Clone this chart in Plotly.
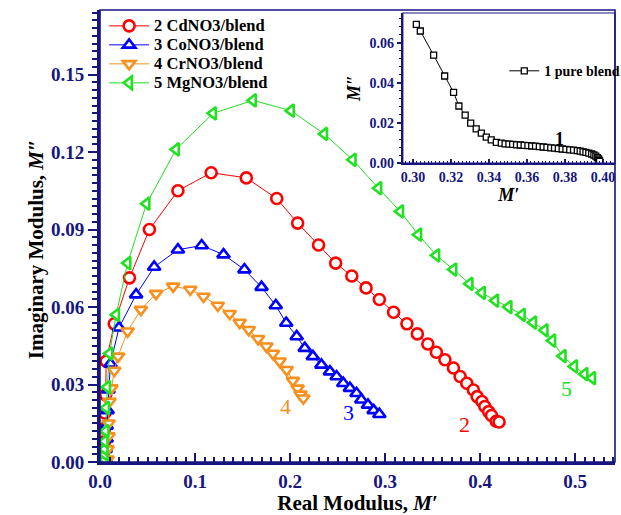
import plotly.graph_objects as go

# ---- electric modulus data (M' vs M'') ----
cd_x = [0.004, 0.004, 0.005, 0.005, 0.005, 0.006, 0.0065, 0.015, 0.031, 0.052, 0.082, 0.117, 0.154,
        0.186, 0.208, 0.230, 0.248, 0.265, 0.280, 0.294, 0.309, 0.323, 0.334, 0.345, 0.354, 0.363,
        0.372, 0.379, 0.386, 0.393, 0.397, 0.402, 0.405, 0.409, 0.412, 0.417, 0.420]
cd_y = [0.001, 0.004, 0.008, 0.013, 0.019, 0.026, 0.039, 0.0535, 0.0713, 0.090, 0.105, 0.112, 0.110,
        0.102, 0.0925, 0.084, 0.077, 0.072, 0.0674, 0.0629, 0.058, 0.0535, 0.0496, 0.0457, 0.0425,
        0.0396, 0.0364, 0.0331, 0.0305, 0.0279, 0.0253, 0.0234, 0.0215, 0.0195, 0.018, 0.0158, 0.0155]

co_x = [0.006, 0.006, 0.007, 0.007, 0.008, 0.009, 0.011, 0.020, 0.038, 0.057, 0.082, 0.107, 0.130,
        0.152, 0.170, 0.185, 0.196, 0.207, 0.2155, 0.224, 0.233, 0.242, 0.249, 0.256, 0.263, 0.270,
        0.275, 0.282, 0.288, 0.294]
co_y = [0.001, 0.005, 0.009, 0.014, 0.020, 0.028, 0.038, 0.052, 0.0648, 0.0755, 0.0822, 0.0838,
        0.0803, 0.0745, 0.0677, 0.0606, 0.0538, 0.0486, 0.0441, 0.0409, 0.0376, 0.035, 0.0331,
        0.0305, 0.0286, 0.0266, 0.0241, 0.0221, 0.020, 0.0185]

cr_x = [0.008, 0.008, 0.009, 0.009, 0.010, 0.012, 0.015, 0.019, 0.029, 0.043, 0.059, 0.077, 0.095,
        0.109, 0.124, 0.1365, 0.147, 0.1566, 0.1663, 0.1751, 0.182, 0.189, 0.1965, 0.203, 0.208,
        0.211, 0.214]
cr_y = [0.001, 0.005, 0.010, 0.015, 0.0234, 0.0286, 0.0354, 0.0409, 0.0506, 0.059, 0.0652, 0.068,
        0.0668, 0.0641, 0.0606, 0.0574, 0.054, 0.0512, 0.0477, 0.0448, 0.042, 0.039, 0.0357,
        0.0315, 0.0285, 0.0262, 0.0247]

mg_x = [0.005, 0.005, 0.005, 0.005, 0.006, 0.0065, 0.0076, 0.010, 0.017, 0.029, 0.049, 0.080, 0.119,
        0.161, 0.201, 0.236, 0.266, 0.293, 0.316, 0.335, 0.354, 0.372, 0.389, 0.402, 0.416, 0.430,
        0.444, 0.456, 0.468, 0.476, 0.487, 0.499, 0.510, 0.518]
mg_y = [0.001, 0.003, 0.005, 0.008, 0.012, 0.021, 0.029, 0.042, 0.057, 0.077, 0.100, 0.121, 0.135,
        0.140, 0.136, 0.127, 0.117, 0.106, 0.097, 0.088, 0.080, 0.0745, 0.069, 0.0655, 0.0625,
        0.060, 0.057, 0.054, 0.051, 0.047, 0.041, 0.037, 0.034, 0.0325]

pure_x = [0.3018, 0.3039, 0.3109, 0.3167, 0.3214, 0.3242, 0.3275, 0.3304, 0.3333, 0.3360, 0.3386,
          0.3412, 0.3439, 0.3465, 0.3485, 0.3505, 0.3525, 0.3545, 0.3565, 0.3585, 0.3605, 0.3625,
          0.3645, 0.3665, 0.3685, 0.3705, 0.3725, 0.3745, 0.3765, 0.3785, 0.3805, 0.3825, 0.3845,
          0.3865, 0.3880, 0.3895, 0.3910, 0.3925, 0.3940, 0.3952, 0.3962, 0.3970, 0.3976, 0.3980,
          0.3982]
pure_y = [0.0693, 0.0660, 0.0539, 0.0435, 0.0353, 0.0285, 0.0239, 0.0199, 0.0171, 0.0149, 0.0129,
          0.0116, 0.0103, 0.0099, 0.0096, 0.0094, 0.0093, 0.0091, 0.0090, 0.0088, 0.0087, 0.0085,
          0.0084, 0.0082, 0.0080, 0.0078, 0.0076, 0.0074, 0.0072, 0.0070, 0.0068, 0.0066, 0.0064,
          0.0062, 0.0059, 0.0056, 0.0053, 0.0049, 0.0045, 0.0040, 0.0034, 0.0027, 0.0020, 0.0013,
          0.0008]

series = [
    ("2 CdNO3/blend", cd_x, cd_y, "circle", "#ff0000"),
    ("3 CoNO3/blend", co_x, co_y, "triangle-up", "#0000ff"),
    ("4 CrNO3/blend", cr_x, cr_y, "triangle-down", "#f7901e"),
    ("5 MgNO3/blend", mg_x, mg_y, "triangle-left", "#22e022"),
]

# curve number labels placed at the end of each curve
curve_labels = [("2", 0.384, 0.0145, "#ff0000"), ("3", 0.261, 0.019, "#0000ff"),
                ("4", 0.195, 0.0215, "#f7901e"), ("5", 0.491, 0.0285, "#22e022")]

NAVY = "#16167e"
SERIF = "Liberation Serif"

fig = go.Figure()

for name, xs, ys, sym, col in series:
    fig.add_trace(go.Scatter(
        x=xs, y=ys, mode="lines+markers",
        # larger legend text while keeping the compact row height of a small legend font
        name=f"<span style='font-size:16.5px'>{name}</span>",
        line=dict(color=col, width=1),
        marker=dict(symbol=sym, size=11, color="white", line=dict(color=col, width=2.6)),
        xaxis="x", yaxis="y", legend="legend",
    ))

fig.add_trace(go.Scatter(
    x=pure_x, y=pure_y, name="1 pure blend", mode="lines+markers",
    line=dict(color="black", width=1),
    marker=dict(symbol="square", size=6, color="white", line=dict(color="black", width=1.3)),
    xaxis="x2", yaxis="y2", legend="legend2",
))

for txt, lx, ly, col in curve_labels:
    fig.add_annotation(x=lx, y=ly, xref="x", yref="y", text=txt, showarrow=False,
                       font=dict(family=SERIF, size=22, color=col))

fig.add_annotation(x=0.377, y=0.0118, xref="x2", yref="y2", text="<b>1</b>", showarrow=False,
                   font=dict(family=SERIF, size=18, color="black"))

# y-axis title of the main plot
fig.add_annotation(x=-0.152, y=0.47, xref="paper", yref="paper", textangle=-90,
                   text="<b>Imaginary Modulus, <i>M″</i></b>", showarrow=False,
                   font=dict(family=SERIF, size=21, color="black"))

# outer frame of the main plot and of the inset
fig.add_shape(type="rect", xref="x domain", yref="y domain", x0=0, x1=1, y0=0, y1=1,
              line=dict(color=NAVY, width=1.6), layer="above")
fig.add_shape(type="rect", xref="x2 domain", yref="y2 domain", x0=0, x1=1, y0=0, y1=1,
              line=dict(color=NAVY, width=1.2), layer="above")

tick_font = dict(family=SERIF, size=19, color=NAVY, weight="bold")
inset_tick_font = dict(family=SERIF, size=14, color=NAVY, weight="bold")

fig.update_layout(
    width=621, height=515,
    margin=dict(l=100, r=6, t=10, b=53, autoexpand=False),
    paper_bgcolor="white", plot_bgcolor="white",
    showlegend=True,
    font=dict(family=SERIF),
    xaxis=dict(
        domain=[0, 1], range=[0, 0.542], anchor="y", automargin=False,
        tickvals=[0, 0.1, 0.2, 0.3, 0.4, 0.5], tickformat=".1f",
        ticks="inside", ticklen=9, tickwidth=2, tickcolor=NAVY,
        minor=dict(dtick=0.01, ticks="inside", ticklen=5, tickwidth=1.6, tickcolor=NAVY),
        showline=True, linewidth=3, linecolor=NAVY, mirror=False,
        showgrid=False, zeroline=False, tickfont=tick_font,
        title=dict(text="<b>Real Modulus, <i>M′</i></b>", standoff=6,
                   font=dict(family=SERIF, size=21, color="black")),
    ),
    yaxis=dict(
        domain=[0, 1], range=[0, 0.175], anchor="x", automargin=False,
        tickvals=[0, 0.03, 0.06, 0.09, 0.12, 0.15], tickformat=".2f",
        ticks="outside", ticklen=9, tickwidth=2, tickcolor=NAVY,
        minor=dict(dtick=0.003, ticks="outside", ticklen=5, tickwidth=1.6, tickcolor=NAVY),
        showline=True, linewidth=3, linecolor=NAVY, mirror=False,
        showgrid=False, zeroline=False, tickfont=tick_font,
    ),
    xaxis2=dict(
        domain=[0.588, 1], range=[0.2947, 0.4063], anchor="y2", automargin=False,
        tickvals=[0.30, 0.32, 0.34, 0.36, 0.38, 0.40], tickformat=".2f",
        ticks="inside", ticklen=4, tickwidth=1.5, tickcolor=NAVY,
        minor=dict(dtick=0.002, ticks="inside", ticklen=2, tickwidth=1, tickcolor=NAVY),
        showline=True, linewidth=2, linecolor=NAVY, mirror=False,
        showgrid=False, zeroline=False, tickfont=inset_tick_font,
        title=dict(text="<b><i>M′</i></b>", standoff=4,
                   font=dict(family=SERIF, size=18, color="black")),
    ),
    yaxis2=dict(
        domain=[0.6615, 0.9934], range=[0, 0.075], anchor="x2", automargin=False,
        tickvals=[0, 0.02, 0.04, 0.06], tickformat=".2f",
        ticks="outside", ticklen=4, tickwidth=1.5, tickcolor=NAVY,
        minor=dict(dtick=0.004, ticks="outside", ticklen=2, tickwidth=1, tickcolor=NAVY),
        showline=True, linewidth=2, linecolor=NAVY, mirror=False,
        showgrid=False, zeroline=False, tickfont=inset_tick_font,
        title=dict(text="<b><i>M″</i></b>", standoff=4,
                   font=dict(family=SERIF, size=18, color="black")),
    ),
    legend=dict(
        x=0.008, y=0.997, xanchor="left", yanchor="top",
        bgcolor="rgba(0,0,0,0)", borderwidth=0, tracegroupgap=0,
        font=dict(family=SERIF, size=12, color="black", weight="bold"),
        itemwidth=40,
    ),
    legend2=dict(
        x=0.785, y=0.9, xanchor="left", yanchor="top",
        bgcolor="rgba(0,0,0,0)", borderwidth=0,
        font=dict(family=SERIF, size=14, color="black", weight="bold"),
        itemwidth=30,
    ),
)

fig.write_html("out.html")
